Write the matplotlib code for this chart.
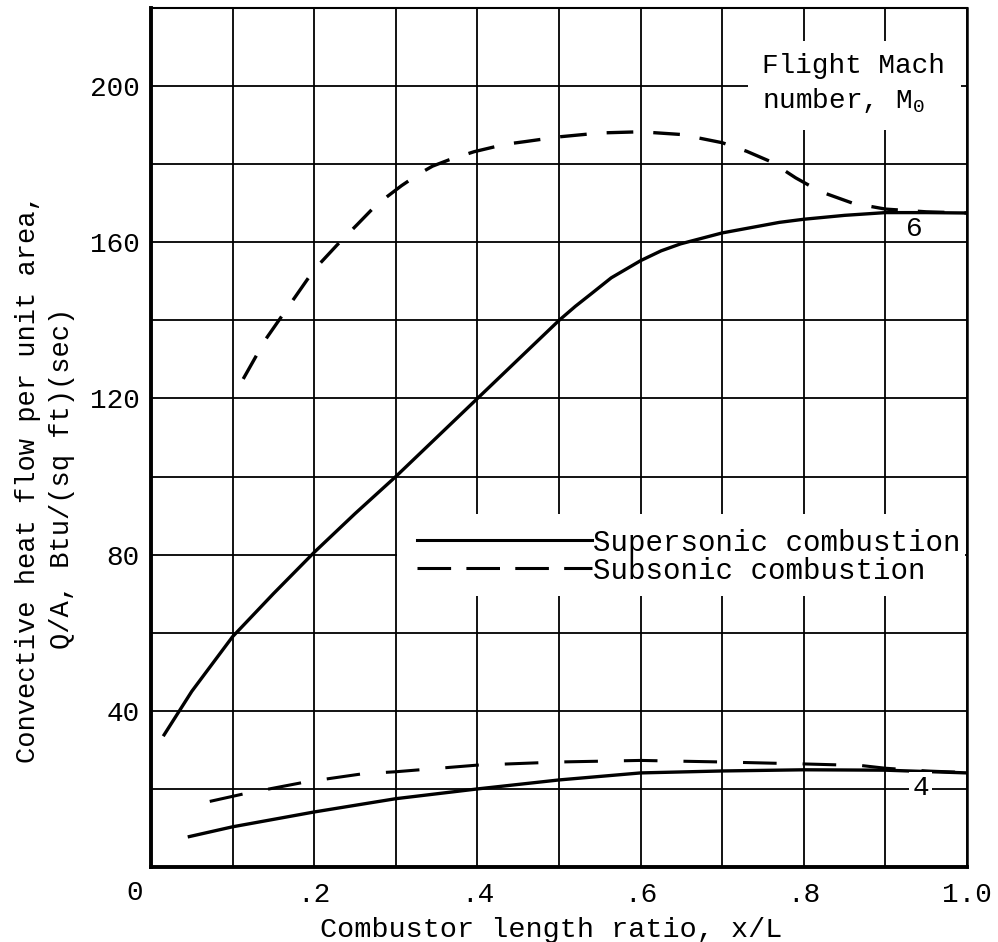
import matplotlib
matplotlib.use("Agg")
import matplotlib.pyplot as plt
from matplotlib.lines import Line2D
from matplotlib.patches import Rectangle
import matplotlib.transforms as mtransforms

plt.rcParams['font.family'] = ['Liberation Mono', 'DejaVu Sans Mono']
plt.rcParams['mathtext.fontset'] = 'custom'
plt.rcParams['mathtext.rm'] = 'Liberation Mono'

# ---------------- data ----------------
# Mach 6, supersonic combustion (solid)
x_m6_sup = [0.015, 0.05, 0.1, 0.15, 0.2, 0.25, 0.3, 0.35, 0.4, 0.45, 0.5, 0.52, 0.54,
            0.564, 0.6, 0.625, 0.649, 0.7, 0.77, 0.8, 0.85, 0.9, 0.95, 1.0]
y_m6_sup = [33.5, 45, 59, 70, 80.6, 90.5, 100, 110, 120, 130, 140, 143.6, 146.9,
            150.9, 155.3, 157.8, 159.6, 162.4, 165.1, 165.9, 166.9, 167.6, 167.6, 167.5]

# Mach 6, subsonic combustion (dashed)
x_m6_sub = [0.113, 0.14, 0.16, 0.18, 0.2, 0.228, 0.253, 0.273, 0.29, 0.307, 0.329, 0.345,
            0.365, 0.396, 0.434, 0.459, 0.5, 0.55, 0.6, 0.65, 0.7, 0.73, 0.76, 0.79,
            0.82, 0.86, 0.9, 0.95, 1.0]
y_m6_sub = [125, 135, 141, 147, 153, 159.3, 164.6, 168.9, 171.8, 174.5, 177.6, 179.5,
            181.1, 183.2, 185.1, 185.8, 187, 188, 188.3, 187.6, 185.5, 183.3, 180.6, 176.5,
            173, 170, 168.5, 167.8, 167.5]

# Mach 4, supersonic combustion (solid)
x_m4_sup = [0.045, 0.1, 0.2, 0.3, 0.4, 0.5, 0.6, 0.7, 0.8, 0.9, 1.0]
y_m4_sup = [7.7, 10.3, 14.1, 17.5, 20, 22.3, 24.1, 24.6, 24.9, 24.8, 24.1]

# Mach 4, subsonic combustion (dashed)
x_m4_sub = [0.072, 0.115, 0.19, 0.26, 0.3, 0.4, 0.5, 0.6, 0.7, 0.8, 0.87, 0.9, 0.95, 1.0]
y_m4_sub = [16.8, 18.8, 21.8, 23.9, 24.4, 26.1, 26.9, 27.3, 26.9, 26.4, 26.0, 25.3, 24.6, 24.2]

x_tick_vals = [0.2, 0.4, 0.6, 0.8, 1.0]
x_tick_labels = ['.2', '.4', '.6', '.8', '1.0']
y_tick_vals = [40, 80, 120, 160, 200]
y_tick_labels = ['40', '80', '120', '160', '200']

legend_labels = ['Supersonic combustion', 'Subsonic combustion']
mach_labels = ['6', '4']

# ---------------- figure ----------------
fig = plt.figure(figsize=(9.98, 9.42), dpi=100)
ax = fig.add_axes([0.1513, 0.0796, 0.8177, 0.9119])
ax.set_xlim(0, 1.0)
ax.set_ylim(0, 220)

ax.set_xticks(x_tick_vals)
ax.set_xticklabels(x_tick_labels)
ax.set_yticks(y_tick_vals)
ax.set_yticklabels(y_tick_labels)
ax.set_xticks([i / 10 for i in range(11)], minor=True)
ax.set_yticks(list(range(0, 221, 20)), minor=True)
ax.tick_params(which='both', length=0)
ax.tick_params(axis='x', labelsize=20, pad=11)
ax.tick_params(axis='y', labelsize=20, pad=8)
ax.grid(which='minor', color='black', linewidth=1.3)
ax.grid(which='major', color='black', linewidth=1.3)
ax.set_axisbelow(True)

for side, lw in [('left', 2.8), ('bottom', 2.8), ('top', 1.5), ('right', 1.8)]:
    ax.spines[side].set_linewidth(lw)
    ax.spines[side].set_zorder(5)

# "0" label at the corner
trans = mtransforms.blended_transform_factory(ax.transAxes, ax.transAxes)
ax.text(-0.0196, -0.0305, '0', transform=trans, ha='center', va='center', fontsize=20)

# white panels behind legend and annotation
ax.add_patch(Rectangle((0.302, 69.5), 0.695, 21, facecolor='white', edgecolor='none', zorder=1.5))
ax.add_patch(Rectangle((0.732, 188.7), 0.26, 22.8, facecolor='white', edgecolor='none', zorder=1.5))

lw = 2.4
ax.plot(x_m6_sup, y_m6_sup, color='black', lw=lw, solid_capstyle='butt', zorder=3)
ax.plot(x_m4_sup, y_m4_sup, color='black', lw=lw, solid_capstyle='butt', zorder=3)
ax.plot(x_m6_sub, y_m6_sub, color='black', lw=lw, dashes=(8, 6), dash_capstyle='butt', zorder=3)
ax.plot(x_m4_sub, y_m4_sub, color='black', lw=2.2, dashes=(11, 8.5), dash_capstyle='butt', zorder=3)

# annotations
ax.text(0.749, 205.1, 'Flight Mach', fontsize=20, ha='left', va='center', zorder=4)
ax.text(0.749, 196.4, r'number, M$_\mathregular{0}$', fontsize=20, ha='left', va='center', zorder=4)
ax.text(0.935, 163.3, mach_labels[0], fontsize=20, ha='center', va='center', zorder=4)
ax.text(0.943, 20.2, mach_labels[1], fontsize=20, ha='center', va='center', zorder=4,
        bbox=dict(facecolor='white', edgecolor='none', pad=2))

handles = [Line2D([], [], color='black', lw=2.2),
           Line2D([], [], color='black', lw=2.2, dashes=(11, 5))]
leg = ax.legend(handles, legend_labels, loc='center left', bbox_to_anchor=(0.326, 79.5),
                bbox_transform=ax.transData, frameon=False, fontsize=21,
                handlelength=6.0, handletextpad=0.05, labelspacing=0.0,
                borderpad=0, borderaxespad=0)
leg.set_zorder(4)

ax.set_xlabel('Combustor length ratio, x/L', fontsize=20.5, labelpad=4)
ax.set_ylabel('Convective heat flow per unit area,\nQ/A, Btu/(sq ft)(sec)', fontsize=19.5,
              linespacing=1.4)
ax.yaxis.set_label_coords(-0.093, 0.452)
ax.xaxis.set_label_coords(0.49, -0.058)

fig.savefig('out.png', dpi=100)
